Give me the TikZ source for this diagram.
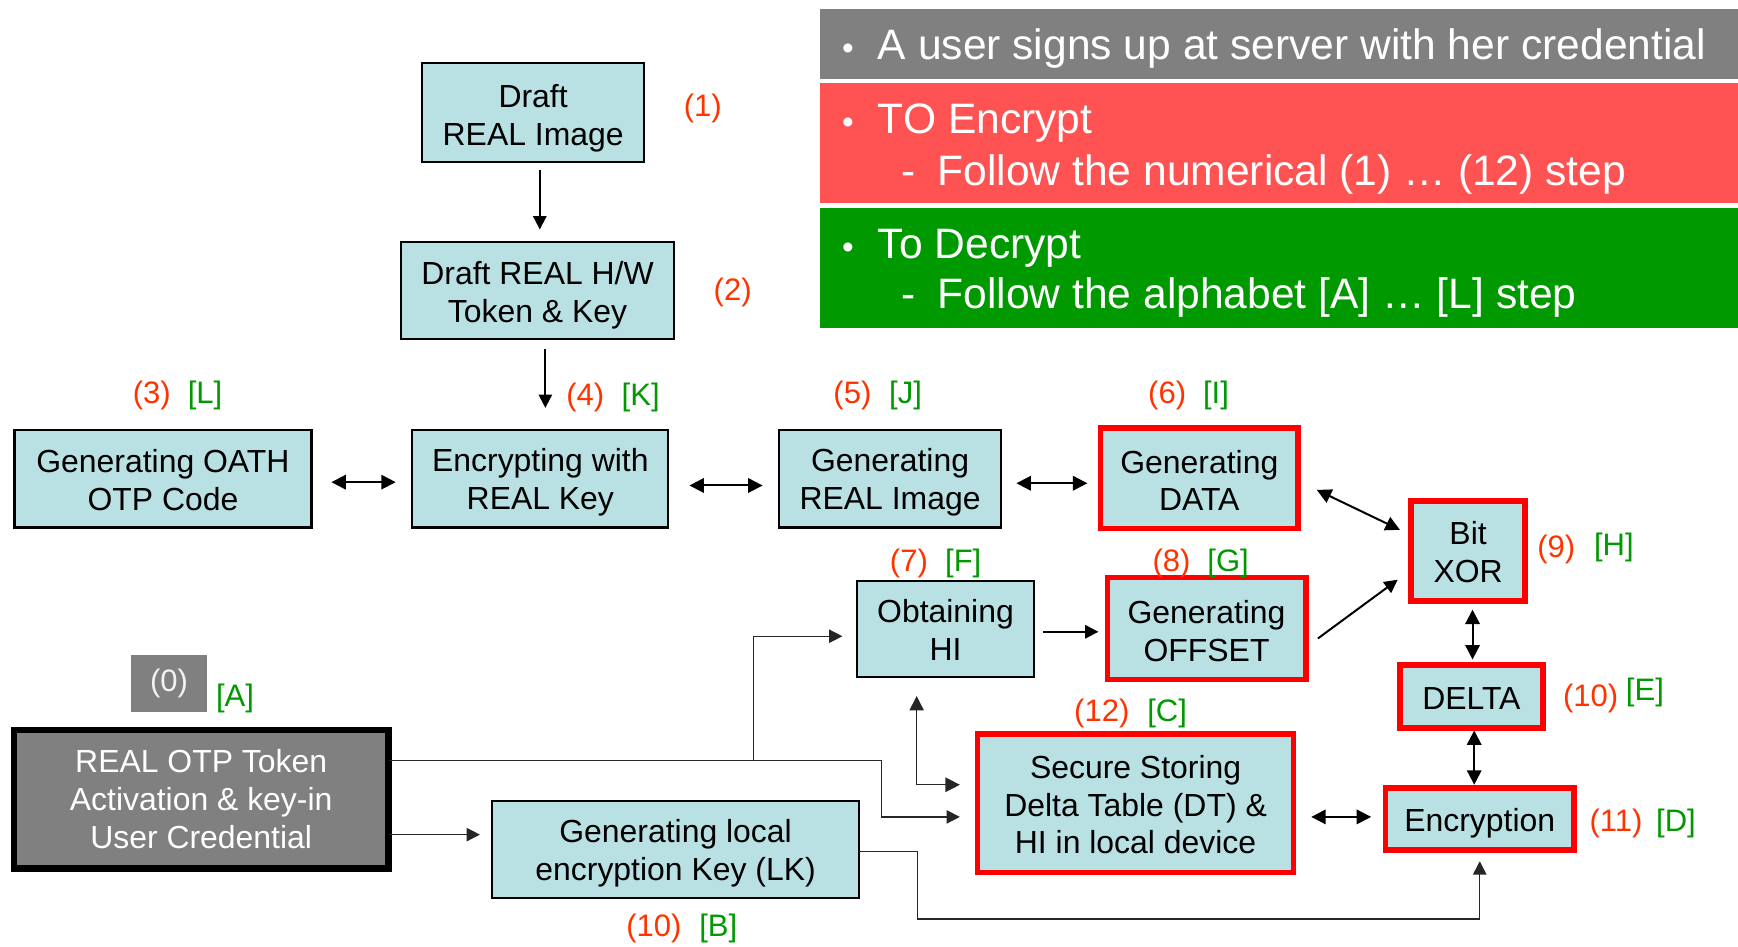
\documentclass[tikz,border=0pt]{standalone}
\usepackage{fontspec}
\setmainfont{Liberation Sans}
\usetikzlibrary{arrows.meta}
\definecolor{boxblue}{RGB}{185,224,227}
\definecolor{lblred}{RGB}{255,51,0}
\definecolor{lblgreen}{RGB}{0,153,0}
\definecolor{bangray}{RGB}{128,128,128}
\definecolor{banred}{RGB}{255,82,82}
\definecolor{bangreen}{RGB}{0,153,0}
\definecolor{boxred}{RGB}{255,0,0}
\newcommand{\tstrut}[1]{\rule{0pt}{#1}}
\begin{document}
\begin{tikzpicture}[x=0.5pt,y=-0.5pt,
  every node/.style={inner sep=0pt, outer sep=0pt},
  bx/.style={draw=black, line width=1pt, fill=boxblue, align=center, font=\fontsize{14.4}{17}\selectfont},
  rbx/.style={bx, draw=boxred, line width=2.5pt},
  num/.style={text=lblred, font=\fontsize{14}{17}\selectfont},
  alp/.style={text=lblgreen, font=\fontsize{14}{17}\selectfont},
  tip/.style={-{Triangle[length=6pt,width=6pt]}},
  both/.style={{Triangle[length=6.5pt,width=6.5pt]}-{Triangle[length=6.5pt,width=6.5pt]}},
  conn/.style={line width=0.9pt, black},
  thinconn/.style={line width=0.6pt, black!85},
  ban/.style={text=white, font=\fontsize{19.2}{23}\selectfont, anchor=base west},
  bul/.style={text=white, font=\fontsize{15}{23}\selectfont, anchor=base},
]
\useasboundingbox (0,0) rectangle (1568,854);

% banners
\fill[bangray] (740,8) rectangle (1568,71);
\fill[banred] (740,75) rectangle (1568,183);
\fill[bangreen] (740,188) rectangle (1568,296);
\node[bul] (bu1) at (765,54) {•};
\node[ban] (g1) at (792,54) {A user signs up at server with her credential};
\node[bul] (bu2) at (765,120) {•};
\node[ban] (r1) at (792,120) {TO Encrypt};
\node[ban] (d1) at (813,167) {-};
\node[ban] (r2) at (846,167) {Follow the numerical (1) … (12) step};
\node[bul] (bu3) at (765,233) {•};
\node[ban] (gr1) at (792,233) {To Decrypt};
\node[ban] (d2) at (813,278) {-};
\node[ban] (gr2) at (846,278) {Follow the alphabet [A] … [L] step};

% boxes
\node[bx, minimum width=100pt, minimum height=44.5pt] (b1) at (481,101.5) {\tstrut{15.5pt}Draft\\REAL Image};
\node[bx, minimum width=123pt, minimum height=44pt] (b2) at (485,262) {\tstrut{14.5pt}Draft REAL H/W\\Token \& Key};
\node[bx, minimum width=134pt, minimum height=44pt] (oath) at (147,432) {\tstrut{11.5pt}Generating OATH\\OTP Code};
\node[bx, minimum width=115.5pt, minimum height=44pt] (enc) at (487.5,432) {\tstrut{13.5pt}Encrypting with\\REAL Key};
\node[bx, minimum width=100pt, minimum height=44pt] (gimg) at (803,432) {\tstrut{13.5pt}Generating\\REAL Image};
\node[rbx, minimum width=89pt, minimum height=45.5pt] (gdata) at (1082,431.5) {\tstrut{12.5pt}Generating\\DATA};
\node[rbx, minimum width=51.5pt, minimum height=45pt] (xor) at (1324.5,497) {\tstrut{11.5pt}Bit\\XOR};
\node[bx, minimum width=80pt, minimum height=43.5pt] (ohi) at (853,567.5) {\tstrut{11.5pt}Obtaining\\HI};
\node[rbx, minimum width=89.5pt, minimum height=46pt] (goff) at (1088.5,567) {\tstrut{12.5pt}Generating\\OFFSET};
\node[rbx, minimum width=64.5pt, minimum height=28.5pt] (delta) at (1327.5,628.5) {\tstrut{11.5pt}DELTA};
\node[rbx, minimum width=85pt, minimum height=28pt] (encr) at (1335,739) {\tstrut{14.5pt}Encryption};
\node[rbx, minimum width=142.5pt, minimum height=62.5pt] (sec) at (1024.5,724.5) {\tstrut{12pt}Secure Storing\\Delta Table (DT) \&\\HI in local device};
\node[fill=bangray, text=white!95!black, minimum width=34.5pt, minimum height=25.5pt, font=\fontsize{14}{17}\selectfont] (zero) at (152.5,616.5) {(0)};
\node[bx, fill=bangray, draw=black, line width=3pt, text=white, minimum width=169pt, minimum height=62.5pt] (otp) at (181.5,721) {REAL OTP Token\\Activation \& key-in\\User Credential};
\node[bx, minimum width=165.5pt, minimum height=43.5pt] (lk) at (609.5,766.5) {\tstrut{13.5pt}Generating local\\encryption Key (LK)};

% labels
\node[num] (n1) at (634,98) {(1)};
\node[num] (n2) at (661,264) {(2)};
\node[num] (n3) at (137,357) {(3)};
\node[alp] (aL) at (185,357) {[L]};
\node[num] (n4) at (528,359) {(4)};
\node[alp] (aK) at (578,359) {[K]};
\node[num] (n5) at (769,357) {(5)};
\node[alp] (aJ) at (817,357) {[J]};
\node[num] (n6) at (1053,357) {(6)};
\node[alp] (aI) at (1097,357) {[I]};
\node[num] (n7) at (820,508) {(7)};
\node[alp] (aF) at (869,508) {[F]};
\node[num] (n8) at (1057,508) {(8)};
\node[alp] (aG) at (1108,508) {[G]};
\node[num] (n9) at (1404,496) {(9)};
\node[alp] (aH) at (1456,494) {[H]};
\node[num] (n10e) at (1435,630) {(10)};
\node[alp] (aE) at (1484,625) {[E]};
\node[num] (n11) at (1458,743) {(11)};
\node[alp] (aD) at (1512,743) {[D]};
\node[num] (n12) at (994,644) {(12)};
\node[alp] (aC) at (1053,644) {[C]};
\node[num] (n10b) at (590,838) {(10)};
\node[alp] (aB) at (648,838) {[B]};
\node[alp] (aA) at (212,630) {[A]};

% helper coordinates
\coordinate (bendA) at (795,686);
\coordinate (bendB) at (795,737);
\coordinate (branch) at (680,686);
\coordinate (bendC) at (828,768);
\coordinate (bendD) at (828,829);

% connectors
\draw[conn,tip,shorten <=3.5pt,shorten >=5.5pt] ([xshift=3pt]b1.south) -- ([xshift=3pt]b1.south |- b2.north);
\draw[conn,tip,shorten <=4.5pt,shorten >=10pt] ([xshift=3.5pt]b2.south) -- ([xshift=3.5pt]b2.south |- enc.north);
\draw[conn,both,shorten <=9pt,shorten >=7.5pt] ([yshift=-1.5pt]oath.east) -- ([yshift=-1.5pt]enc.west);
\draw[conn,both,shorten <=9.5pt,shorten >=7.5pt] ([yshift=-3pt]enc.east) -- ([yshift=-3pt]gimg.west);
\draw[conn,both,shorten <=7pt,shorten >=6pt] ([yshift=-2pt]gimg.east) -- ([yshift=-2pt]gimg.east -| gdata.west);
\draw[conn,both] ([shift={(8.5pt,-5.25pt)}]gdata.east) -- ([shift={(-5pt,9.5pt)}]xor.west);
\draw[conn,tip,shorten <=4pt,shorten >=4pt] ([yshift=-1.25pt]ohi.east) -- ([yshift=-1.25pt]ohi.east -| goff.west);
\draw[conn,tip] ([shift={(5.5pt,-4.5pt)}]goff.east) -- ([shift={(-6pt,-13pt)}]xor.west);
\draw[conn,both,shorten <=4pt,shorten >=2.5pt] ([xshift=2pt]xor.south) -- ([xshift=2pt]xor.south |- delta.north);
\draw[conn,both,shorten <=1pt,shorten >=1.5pt] ([xshift=1.25pt]delta.south) -- ([xshift=1.25pt]delta.south |- encr.north);
\draw[conn,both,shorten <=8pt,shorten >=6.5pt] ([yshift=1pt]encr.west -| sec.east) -- ([yshift=1pt]encr.west);
\draw[thinconn,both,shorten <=8.5pt,shorten >=8pt] ([xshift=-13pt]ohi.south) |- ([yshift=8.25pt]sec.west);
\draw[thinconn,tip,shorten >=8pt] ([yshift=17.5pt]otp.east) -- (bendA) -- (bendB) -- ([yshift=-6.25pt]sec.west);
\draw[thinconn,tip,shorten >=6.5pt] (branch) |- ([yshift=-3.25pt]ohi.west);
\draw[thinconn,tip,shorten >=5.5pt] ([yshift=-16pt]otp.east) -- ([yshift=-16pt]otp.east -| lk.west);
\draw[thinconn,tip,shorten >=5pt] ([yshift=-0.75pt]lk.east) -- (bendC) -- (bendD) -| (encr.south);
\end{tikzpicture}
\end{document}
